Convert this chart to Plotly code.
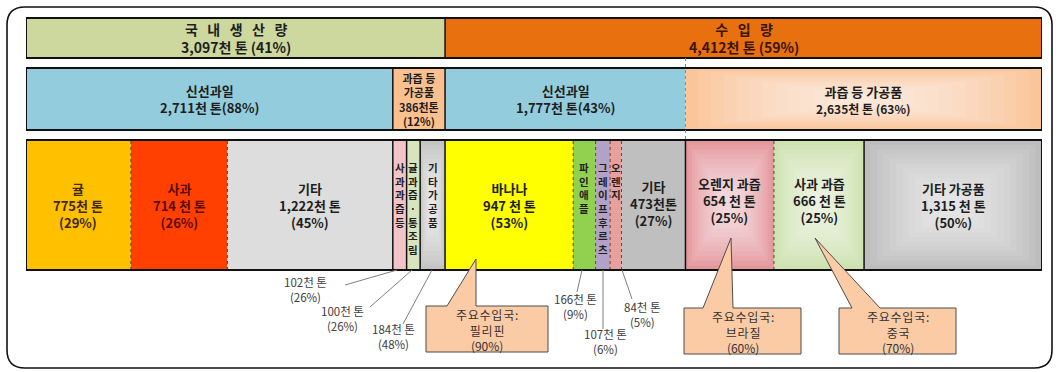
import numpy as np
import plotly.graph_objects as go

W, H = 1059, 372


def px(x):
    return x / W


def py(y):
    return 1 - y / H


# ---------------- data ----------------
total_names = ["국 내 생 산 량", "수 입 량"]
total_values = [3097, 4412]
total_pct = [41, 59]

group_names = ["신선과일", "과즙 등 가공품", "신선과일", "과즙 등 가공품"]
group_values = [2711, 386, 1777, 2635]
group_pct = [88, 12, 43, 63]

item_names = ["귤", "사과", "기타", "사과과즙 등", "귤과즙·통조림", "기타 가공품",
              "바나나", "파인애플", "그레이프후르츠", "오렌지", "기타",
              "오렌지 과즙", "사과 과즙", "기타 가공품"]
item_values = [775, 714, 1222, 102, 100, 184, 947, 166, 107, 84, 473, 654, 666, 1315]
item_pct = [29, 26, 45, 26, 26, 48, 53, 9, 6, 5, 27, 25, 25, 50]

country_items = ["바나나", "오렌지 과즙", "사과 과즙"]
country_names = ["필리핀", "브라질", "중국"]
country_pct = [90, 60, 70]

# ---------------- styles ----------------
FONT = "Noto Sans CJK KR"
total_colors = ["#CDD89E", "#E8700E"]
total_text_colors = ["#1E1E1E", "#3A1500"]
group_colors = ["#93CDDD", "#FAC08F", "#93CDDD", "#FBC59A"]
item_colors = ["#FFC000", "#FF4000", "#DDDDDD", "#F2C4C8", "#D7E4BD", "#C4C4C4",
               "#FFFF00", "#92D050", "#B3A2C7", "#E8A09E", "#BFBFBF",
               "#E4989D", "#CDE2B0", "#BDBDBD"]
item_text_colors = ["#402800", "#5C0A00"] + ["#1E1E1E"] * 12
# label mode: "in" = three-line label inside, "v" = vertical name inside + outside amount
item_mode = ["in", "in", "in", "v", "v", "v", "in", "v", "v", "v", "in", "in", "in", "in"]
amount_fmt = ["{}천 톤", "{} 천 톤", "{}천 톤", "{}천 톤", "{}천 톤", "{}천 톤",
              "{} 천 톤", "{}천 톤", "{}천 톤", "{}천 톤", "{}천톤",
              "{} 천 톤", "{} 천 톤", "{} 천 톤"]
item_label_y = [205, 205, 205, 0, 0, 0, 205, 0, 0, 0, 203, 200, 200, 205]
row3_bounds = ["dot", "dot", "solid", "solid", "solid", "solid",
               "dot", "dot", "dot", "dot", "solid", "dot", "solid"]
row2_bounds = ["solid", "solid", "dot"]
row1_bounds = ["solid"]
# segments drawn with a "from centre" gradient: (row axis, index)
gradient_segments = [("2", 3), ("3", 5), ("3", 11), ("3", 12), ("3", 13)]

# outside labels (pixel placement) for small items: text centre, leader line
outside_pos = {
    3: ((305, 289), (345, 285, 397, 270)),
    4: ((342, 318), (370, 307, 412, 270)),
    5: ((393, 336), (403, 324, 432, 270)),
    7: ((575, 306), (577, 292, 582, 270)),
    8: ((605, 341), (603, 329, 603, 270)),
    9: ((642, 314), (632, 299, 622, 270)),
}
callouts = [
    # box x0, x1, y0, y1, wedge base x0, x1, tip x, y
    (426, 548, 306, 352, 447, 476, 476, 259),
    (684, 801, 308, 354, 703, 733, 731, 238),
    (839, 956, 308, 354, 852, 880, 815, 238),
]

ROWS = [(18, 58), (68, 130), (140, 270)]
X_DOMAIN = [px(26), px(1042)]
TOTAL = float(sum(total_values))
NB = "\u00a0"
HAIR = "\u200a"

fig = go.Figure()

row_values = {"": total_values, "2": group_values, "3": item_values}
rows_data = [
    (total_values, total_colors, "x", "y"),
    (group_values, group_colors, "x2", "y2"),
    (item_values, item_colors, "x3", "y3"),
]
for vals, cols, xa, ya in rows_data:
    v = np.array(vals, dtype=float)
    base = np.concatenate([[0], np.cumsum(v)[:-1]])
    fig.add_trace(go.Bar(
        x=v, base=base, y=[0] * len(v), orientation="h", width=1,
        marker=dict(color=cols, line=dict(width=0)),
        xaxis=xa, yaxis=ya, hoverinfo="skip", showlegend=False,
    ))

layout_axes = {}
for i, (t, b) in enumerate(ROWS):
    sfx = "" if i == 0 else str(i + 1)
    layout_axes["xaxis" + sfx] = dict(domain=X_DOMAIN, range=[0, TOTAL], visible=False,
                                      fixedrange=True, anchor="y" + sfx)
    layout_axes["yaxis" + sfx] = dict(domain=[py(b), py(t)], range=[-0.5, 0.5], visible=False,
                                      fixedrange=True, anchor="x" + sfx)

shapes = []
annotations = []


def ann(**kw):
    kw.setdefault("xanchor", "center")
    kw.setdefault("yanchor", "middle")
    kw.setdefault("showarrow", False)
    annotations.append(kw)


# outer rounded frame
fx0, fx1, fy0, fy1, r = 7, 1052, 7, 368, 18
path = (f"M {px(fx0 + r)},{py(fy0)} L {px(fx1 - r)},{py(fy0)} "
        f"Q {px(fx1)},{py(fy0)} {px(fx1)},{py(fy0 + r)} L {px(fx1)},{py(fy1 - r)} "
        f"Q {px(fx1)},{py(fy1)} {px(fx1 - r)},{py(fy1)} L {px(fx0 + r)},{py(fy1)} "
        f"Q {px(fx0)},{py(fy1)} {px(fx0)},{py(fy1 - r)} L {px(fx0)},{py(fy0 + r)} "
        f"Q {px(fx0)},{py(fy0)} {px(fx0 + r)},{py(fy0)} Z")
shapes.append(dict(type="path", xref="paper", yref="paper", path=path,
                   line=dict(color="#111111", width=1.6), layer="below"))

# centre gradients (nested translucent white rectangles)
for sfx, idx in gradient_segments:
    vals = np.array(row_values[sfx], dtype=float)
    s0 = vals[:idx].sum()
    w = vals[idx]
    for k in range(1, 13):
        f = k * 0.036
        shapes.append(dict(type="rect", xref="x" + sfx, yref="y" + sfx + " domain",
                           x0=s0 + w * f, x1=s0 + w * (1 - f), y0=f, y1=1 - f,
                           fillcolor="white", opacity=0.085, line=dict(width=0)))

# boundaries
for vals, bounds, xa, ya in [(total_values, row1_bounds, "x", "y"),
                             (group_values, row2_bounds, "x2", "y2"),
                             (item_values, row3_bounds, "x3", "y3")]:
    edges = np.cumsum(vals)[:-1]
    for e, st in zip(edges, bounds):
        if st == "solid":
            shapes.append(dict(type="line", xref=xa, yref=ya + " domain", x0=e, x1=e, y0=0, y1=1,
                               line=dict(color="#111111", width=1.5)))
        elif xa != "x2":
            shapes.append(dict(type="line", xref=xa, yref=ya + " domain", x0=e, x1=e, y0=0, y1=1,
                               line=dict(color="#5A4A3A", width=1, dash="dot")))
    shapes.append(dict(type="rect", xref=xa, yref=ya + " domain", x0=0, x1=TOTAL, y0=0, y1=1,
                       line=dict(color="#111111", width=2)))

# dotted divider between imported fresh and processed (rows 1-3)
split = total_values[0] + group_values[2]
shapes.append(dict(type="line", xref="x2", yref="paper", x0=split, x1=split,
                   y0=py(58), y1=py(140), line=dict(color="#8A8A8A", width=1, dash="dot")))

# row 1 labels
mids = np.cumsum(total_values) - np.array(total_values) / 2
for n, v, p, m, c in zip(total_names, total_values, total_pct, mids, total_text_colors):
    spaced = n.replace(" ", NB + NB + " ")
    ann(xref="x", yref="y domain", x=m, y=0.5,
        text=f"<b>{spaced}<br>{v:,}천 톤 ({p}%)</b>",
        font=dict(family=FONT, size=14, color=c))

# row 2 labels
mids = np.cumsum(group_values) - np.array(group_values) / 2
for i, (n, v, p, m) in enumerate(zip(group_names, group_values, group_pct, mids)):
    if i == 1:
        parts = n.split(" ")
        txt = f"<b>{parts[0]} {parts[1]}<br>{parts[2]}<br>{v}천톤<br>({p}%)</b>"
        size = 11
    elif i == 3:
        txt = f"<b>{n}</b><br><span style='font-size:12px'><b>{v:,}천 톤 ({p}%)</b></span>"
        size = 13
    else:
        txt = f"<b>{n}<br>{v:,}천 톤({p}%)</b>"
        size = 13
    ann(xref="x2", yref="y2 domain", x=m, y=0.5,
        text=txt, font=dict(family=FONT, size=size, color="#1E1E1E"))

# row 3 labels
r3t, r3b = ROWS[2]
vals = np.array(item_values, dtype=float)
mids = np.cumsum(vals) - vals / 2
for i, (n, v, p, m) in enumerate(zip(item_names, item_values, item_pct, mids)):
    amount = amount_fmt[i].format(f"{v:,}")
    if item_mode[i] == "in":
        yy = (r3b - item_label_y[i]) / (r3b - r3t)
        ann(xref="x3", yref="y3 domain", x=m, y=yy,
            text=f"<b>{n}<br>{amount}<br>({p}%)</b>",
            font=dict(family=FONT, size=13, color=item_text_colors[i]))
    else:
        chars = [ch for ch in n if ch != " "]
        ann(xref="x3", yref="paper", x=m, y=py(158), yanchor="top",
            text="<b>" + "<br>".join(chars) + "</b>",
            font=dict(family=FONT, size=10.5, color="#1E1E1E"))
        (tx, ty), (lx0, ly0, lx1, ly1) = outside_pos[i]
        ann(xref="paper", yref="paper", x=px(tx), y=py(ty),
            text=f"{amount}<br>({p}%)",
            font=dict(family=FONT, size=11.5, color="#404040"))
        shapes.append(dict(type="line", xref="paper", yref="paper",
                           x0=px(lx0), y0=py(ly0), x1=px(lx1), y1=py(ly1),
                           line=dict(color="#7F7F7F", width=1)))

# callouts for main import countries
for (bx0, bx1, by0, by1, wx0, wx1, tx, ty), cn, cp in zip(callouts, country_names, country_pct):
    pth = (f"M {px(bx0)},{py(by0)} L {px(wx0)},{py(by0)} L {px(tx)},{py(ty)} "
           f"L {px(wx1)},{py(by0)} L {px(bx1)},{py(by0)} L {px(bx1)},{py(by1)} "
           f"L {px(bx0)},{py(by1)} Z")
    shapes.append(dict(type="path", xref="paper", yref="paper", path=pth,
                       fillcolor="#FBCBA6", line=dict(color="#4D4D4D", width=1)))
    cx = (bx0 + bx1) / 2
    head = HAIR.join("주요수입국:")
    name = HAIR.join(cn)
    ann(xref="paper", yref="paper", x=px(cx), y=py((by0 + by1) / 2 + 1),
        text=f"{head}<br>{name}<br>({cp}%)",
        font=dict(family=FONT, size=12, color="#333333"))

fig.update_layout(
    width=W, height=H, margin=dict(l=0, r=0, t=0, b=0),
    paper_bgcolor="white", plot_bgcolor="rgba(0,0,0,0)",
    barmode="overlay", bargap=0, showlegend=False,
    shapes=shapes, annotations=annotations,
    font=dict(family=FONT),
    **layout_axes,
)

fig.write_html("out.html", config={"displayModeBar": False},
               post_script="document.body.style.margin='0';document.body.style.overflow='hidden';")
